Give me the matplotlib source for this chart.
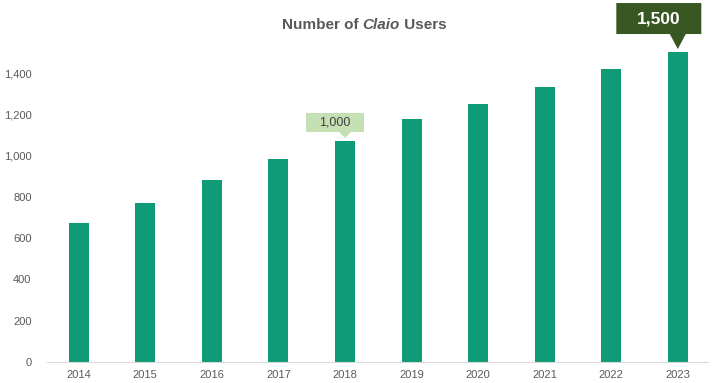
import matplotlib
matplotlib.use("Agg")
import matplotlib.pyplot as plt
from matplotlib.patches import Polygon
from matplotlib.transforms import ScaledTranslation

years = ["2014", "2015", "2016", "2017", "2018", "2019", "2020", "2021", "2022", "2023"]
users = [675, 770, 882, 983, 1071, 1177, 1250, 1332, 1420, 1502]
yticks = [0, 200, 400, 600, 800, 1000, 1200, 1400]
callouts = [("2018", "1,000"), ("2023", "1,500")]

plt.rcParams['font.family'] = ['Liberation Sans', 'DejaVu Sans']
GRAY = "#595959"
BAR = "#0f9b77"

fig = plt.figure(figsize=(7.2, 3.83), dpi=100)
ax = fig.add_axes([0.065, 0.055, 0.918, 0.835])
x = list(range(len(years)))
ax.bar(x, users, width=0.3, color=BAR, zorder=2)
ax.set_xlim(-0.48, len(years) - 0.55)
ax.set_ylim(0, 1550)
ax.set_xticks(x)
ax.set_xticklabels(years)
ax.set_yticks(yticks)
ax.set_yticklabels([f"{v:,}" for v in yticks])
ax.tick_params(axis='both', length=0, labelsize=8, colors=GRAY)
ax.tick_params(axis='x', pad=6)
ax.tick_params(axis='y', pad=11)
for s in ['top', 'right', 'left']:
    ax.spines[s].set_visible(False)
ax.spines['bottom'].set_color('#d9d9d9')

def callout(xi, yv, text, w, h, ph, pw, shift, gap, fc, tc, fs, bold):
    d = fig.dpi
    tr = fig.dpi_scale_trans + ScaledTranslation(xi, yv, ax.transData)
    g = gap / d
    cx = shift / d
    verts = [
        (0, g),
        (-pw / d, g + ph / d),
        (cx - w / 2 / d, g + ph / d),
        (cx - w / 2 / d, g + (ph + h) / d),
        (cx + w / 2 / d, g + (ph + h) / d),
        (cx + w / 2 / d, g + ph / d),
        (pw / d, g + ph / d),
    ]
    poly = Polygon(verts, closed=True, transform=tr, facecolor=fc, edgecolor='none',
                   clip_on=False, zorder=5)
    ax.add_patch(poly)
    ax.text(cx, g + (ph + h / 2) / d, text, transform=tr, ha='center', va='center',
            color=tc, fontsize=fs, fontweight='bold' if bold else 'normal', zorder=6)

i1 = years.index(callouts[0][0])
callout(i1, users[i1], callouts[0][1], 58, 19, 6, 6, -10, 3, "#c5e0b3", "#404040", 9, False)
i2 = years.index(callouts[1][0])
callout(i2, users[i2], callouts[1][1], 85, 31, 15, 8, -19, 3, "#385723", "white", 12.5, True)

parts = [("Number of ", 'normal'), ("Claio", 'italic'), (" Users", 'normal')]
fig.canvas.draw()
r = fig.canvas.get_renderer()
texts = []
for s, st in parts:
    t = fig.text(0, 0, s, fontsize=11, fontweight='bold', fontstyle=st, color=GRAY,
                 va='center', ha='left')
    texts.append(t)
widths = [t.get_window_extent(renderer=r).width for t in texts]
total = sum(widths)
xpix = 364 - total / 2
for t, wdt in zip(texts, widths):
    t.set_position((xpix / 720, 1 - 25 / 383))
    xpix += wdt

fig.savefig("out.png", dpi=100)
